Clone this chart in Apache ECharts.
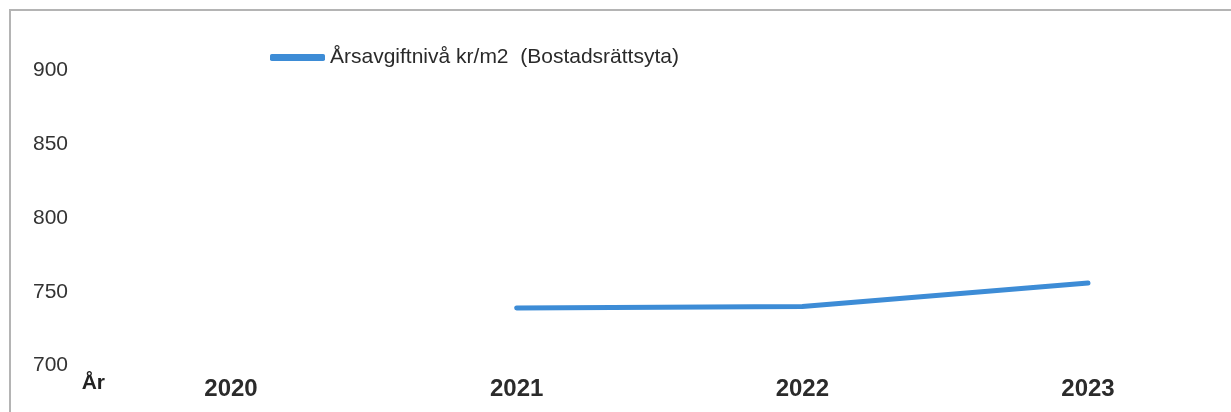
<!DOCTYPE html>
<html>
<head>
<meta charset="utf-8">
<script src="https://cdn.jsdelivr.net/npm/echarts@6/dist/echarts.min.js"></script>
<style>
html,body{margin:0;padding:0;background:#fff;}
#wrap{position:relative;width:1231px;height:412px;overflow:hidden;}
#chart{position:absolute;left:0;top:0;width:1231px;height:412px;}
#frame{position:absolute;left:9px;top:9px;width:1240px;height:420px;border-top:2px solid #b4b4b4;border-left:2px solid #b4b4b4;pointer-events:none;}
</style>
</head>
<body>
<div id="wrap"><div id="chart"></div><div id="frame"></div></div>
<script>
const categories = ['2020', '2021', '2022', '2023'];
const seriesName = 'Årsavgiftnivå kr/m2  (Bostadsrättsyta)';
const values = [null, 739, 740, 756];
const yTicks = [700, 750, 800, 850, 900];
const xAxisName = 'År';

const FONT = '"Liberation Sans", Arial, sans-serif';
const chart = echarts.init(document.getElementById('chart'), null, {renderer: 'canvas'});
chart.setOption({
  animation: false,
  backgroundColor: 'transparent',
  grid: {left: 231, right: 143, top: 70.5, bottom: 46.5, containLabel: false},
  legend: {
    left: 265, top: 42,
    icon: 'roundRect',
    itemWidth: 55, itemHeight: 7,
    itemGap: 10,
    textStyle: {fontFamily: FONT, fontSize: 21, color: '#2a2a2a'},
    data: [seriesName]
  },
  xAxis: {
    type: 'category',
    data: categories,
    boundaryGap: false,
    name: xAxisName,
    nameLocation: 'start',
    nameGap: 126,
    nameTextStyle: {fontFamily: FONT, fontSize: 21, fontWeight: 'bold', color: '#222', verticalAlign: 'top', padding: [7, 0, 0, 0]},
    axisLine: {show: false},
    axisTick: {show: false},
    splitLine: {show: false},
    axisLabel: {fontFamily: FONT, fontSize: 24, fontWeight: 'bold', color: '#2b2b2b', margin: 12}
  },
  yAxis: {
    type: 'value',
    min: yTicks[0],
    max: yTicks[yTicks.length - 1],
    interval: 50,
    axisLine: {show: false},
    axisTick: {show: false},
    splitLine: {show: false},
    axisLabel: {fontFamily: FONT, fontSize: 21, color: '#333', margin: 163}
  },
  series: [{
    name: seriesName,
    type: 'line',
    data: values,
    symbol: 'none',
    connectNulls: false,
    lineStyle: {color: '#3d8cd6', width: 5, cap: 'round', join: 'round'},
    itemStyle: {color: '#3d8cd6'}
  }]
});
</script>
</body>
</html>
